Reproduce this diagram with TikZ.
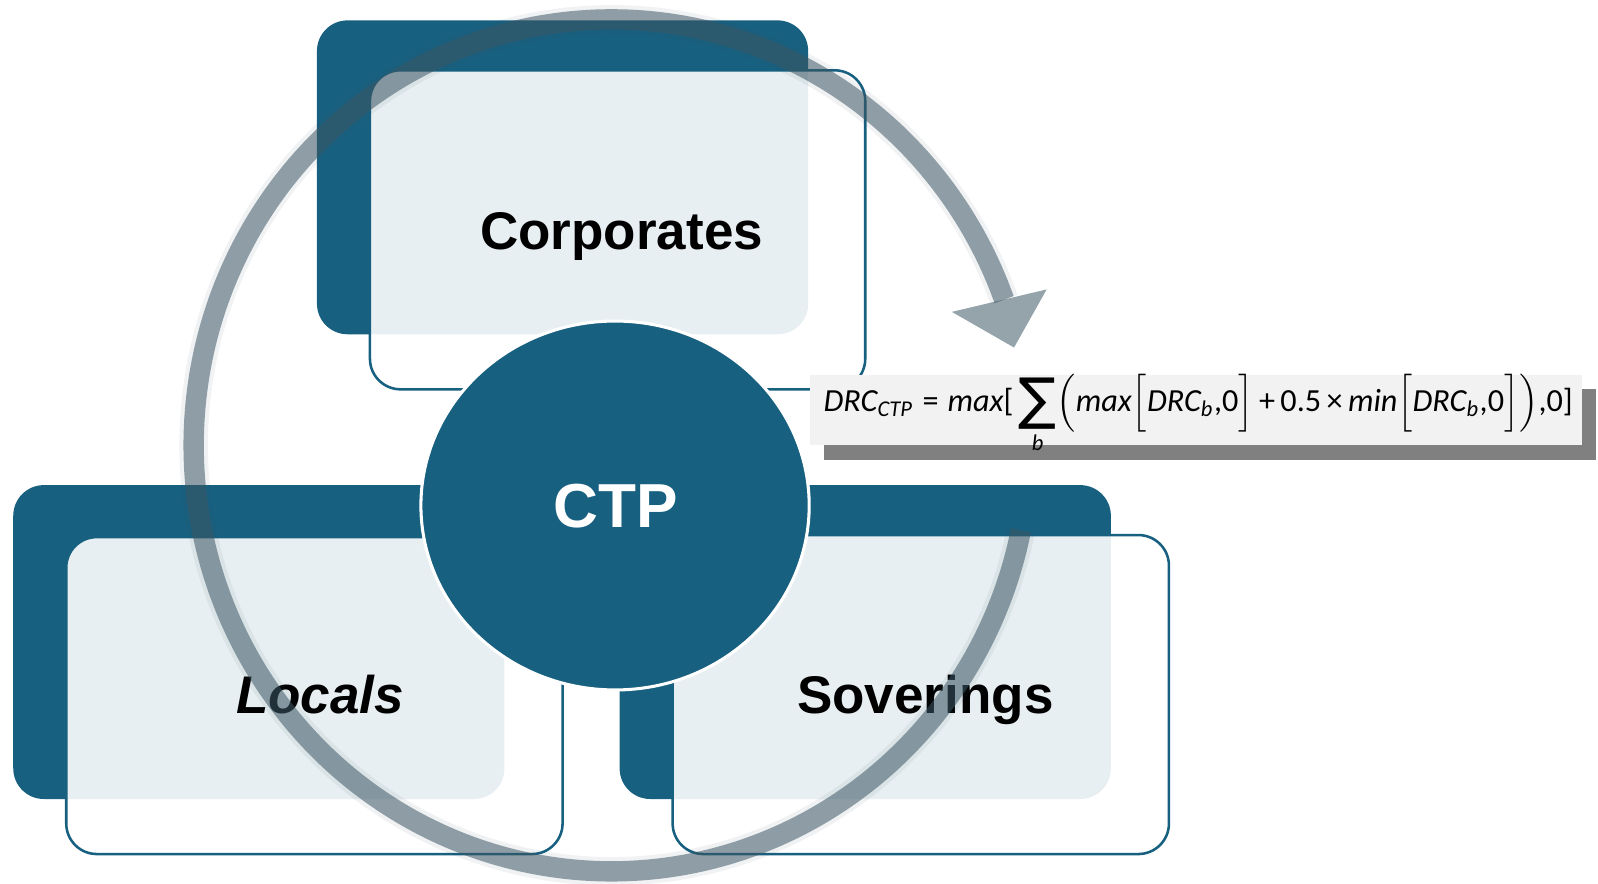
\documentclass[tikz,border=0pt]{standalone}
\usepackage{fontspec}
\usepackage{amsmath}
\usepackage{graphicx}
\usetikzlibrary{shapes.geometric}
\setmainfont{Liberation Sans}
\newfontfamily\calibri{Carlito}
\newfontfamily\dejavu{DejaVu Sans}
\definecolor{darkblue}{RGB}{23,96,128}
\definecolor{ringc}{RGB}{60,86,100}
\definecolor{formbg}{RGB}{242,242,242}
\definecolor{shadowc}{RGB}{128,128,128}
\newcommand\fit[1]{\text{\calibri\itshape #1}}
\newcommand\fup[1]{\text{\calibri #1}}
\begin{document}
\begin{tikzpicture}[x=1pt,y=-1pt,
  backbox/.style={fill=darkblue, rounded corners=30pt, minimum width=482pt, minimum height=308pt, inner sep=0pt},
  frontbox/.style={draw=darkblue, line width=2.5pt, fill=white, fill opacity=0.9, rounded corners=30pt, inner sep=0pt},
  boxtext/.style={font=\fontsize{52}{60}\selectfont\bfseries, text=black, anchor=base, inner sep=0pt},
  ringglow/.style={draw=ringc, line width=28pt, draw opacity=0.08},
  ringline/.style={draw=ringc, line width=20pt, draw opacity=0.54},
  formbox/.style={minimum width=757pt, minimum height=69pt, inner sep=0pt},
]
\useasboundingbox (0,0) rectangle (1568,867.4);
% Corporates
\node[backbox] (corpback) at (552,174) {};
\node[frontbox, minimum width=486pt, minimum height=313pt] (corpfront) at (606,225.5) {};
% Locals
\node[backbox] (locback) at (254,630) {};
\node[frontbox, minimum width=487pt, minimum height=311pt] (locfront) at (308.5,682.5) {};
% Soverings
\node[backbox] (sovback) at (849,630) {};
\node[frontbox, minimum width=487pt, minimum height=313pt] (sovfront) at (903.5,681.5) {};
% texts
\node[boxtext] (corptxt) at (610,245) {Corporates};
\node[boxtext, font=\fontsize{52}{60}\selectfont\bfseries\itshape] (loctxt) at (314,700) {Locals};
\node[boxtext] (sovtxt) at (908,700) {Soverings};
% CTP ellipse
\node[ellipse, fill=darkblue, draw=white, line width=3pt, minimum width=381pt, minimum height=362pt, inner sep=0pt] (ctp) at (603.5,496) {};
\node[boxtext, font=\fontsize{61}{70}\selectfont\bfseries, text=white] (ctptxt) at (604,518) {CTP};
% ring arrow
\draw[ringglow] plot[domain=11.5:340, samples=160, smooth] ({600+410*cos(\x)},{437+418*sin(\x)});
\draw[ringline] plot[domain=11.5:340, samples=160, smooth] ({600+410*cos(\x)},{437+418*sin(\x)});
\coordinate (hb1) at (934,306);
\coordinate (hb2) at (1027,284);
\coordinate (htip) at (995,341);
\fill[ringc, fill opacity=0.54] (hb1) -- (htip) -- (hb2) -- cycle;
% formula
\node[formbox, fill=shadowc] (fshadow) at (1187.5,416.5) {};
\node[formbox, fill=formbg] (fbox) at (1173.5,402.5) {};
\node[anchor=base west, inner sep=0pt] (formula) at (808,404) {\resizebox{735pt}{!}{$\fit{DRC}_{\fit{CTP}}\mathrel{\fup{=}}\fit{max}\fup{[}\mathop{\vcenter{\hbox{\scalebox{1.75}{\dejavu ∑}}}}\limits_{\fit{b}}\Bigl(\fit{max}\Bigl[\fit{DRC}_{\fit{b}}\fup{,0}\Bigr]\fup{\,+\,0.5\,×\,}\fit{min}\Bigl[\fit{DRC}_{\fit{b}}\fup{,0}\Bigr]\Bigr)\fup{,0]}$}};
\end{tikzpicture}
\end{document}
